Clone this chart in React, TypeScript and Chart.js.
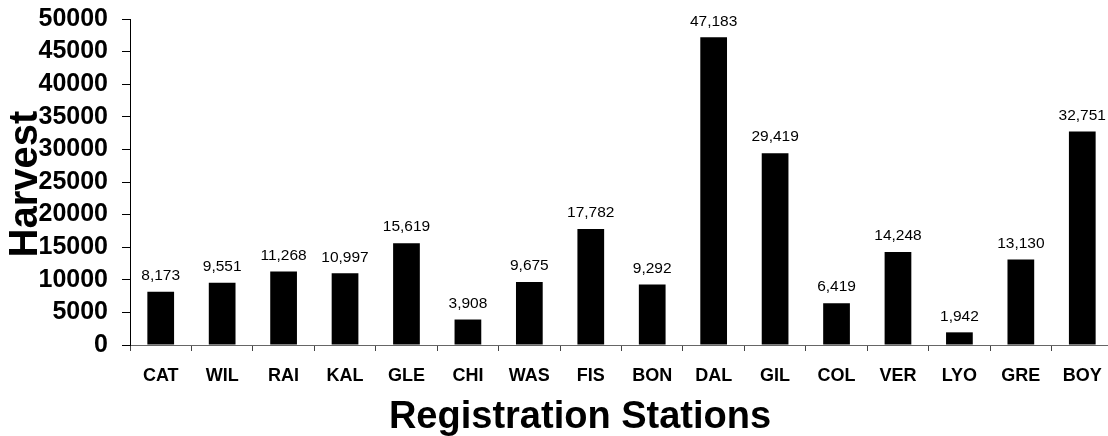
import React, { useEffect, useRef } from "react";
import { Chart, registerables } from "chart.js";

Chart.register(...registerables);

const stations = ["CAT", "WIL", "RAI", "KAL", "GLE", "CHI", "WAS", "FIS", "BON", "DAL", "GIL", "COL", "VER", "LYO", "GRE", "BOY"];
const harvest = [8173, 9551, 11268, 10997, 15619, 3908, 9675, 17782, 9292, 47183, 29419, 6419, 14248, 1942, 13130, 32751];
const yTickMax = 50000;
const yTickStep = 5000;
const xTitle = "Registration Stations";
const yTitle = "Harvest";

const FONT = '"Liberation Sans", Arial, Helvetica, sans-serif';

const labelsPlugin = {
  id: "barLabels",
  afterDatasetsDraw(chart: any) {
    const ctx = chart.ctx;
    const meta = chart.getDatasetMeta(0);
    ctx.save();
    ctx.font = `15.5px ${FONT}`;
    ctx.fillStyle = "#000";
    ctx.textAlign = "center";
    ctx.textBaseline = "middle";
    meta.data.forEach((bar: any, i: number) => {
      const v = chart.data.datasets[0].data[i] as number;
      ctx.fillText(v.toLocaleString("en-US"), bar.x, bar.y - 16);
    });
    ctx.restore();
  },
};

const titlesPlugin = {
  id: "axisTitles",
  afterDraw(chart: any) {
    const ctx = chart.ctx;
    const area = chart.chartArea;
    ctx.save();
    ctx.fillStyle = "#000";
    ctx.font = `bold 38px ${FONT}`;
    ctx.textAlign = "center";
    ctx.textBaseline = "alphabetic";
    ctx.fillText(xTitle, area.left + 450, area.bottom + 83);
    ctx.font = `bold 40px ${FONT}`;
    ctx.translate(area.left - 104, (area.top + area.bottom) / 2 + 2);
    ctx.rotate(-Math.PI / 2);
    ctx.textBaseline = "middle";
    ctx.fillText(yTitle, 0, 0);
    ctx.restore();
  },
};

export default function App() {
  const ref = useRef<HTMLCanvasElement | null>(null);
  useEffect(() => {
    if (!ref.current) return;
    const chart = new Chart(ref.current, {
      type: "bar",
      data: {
        labels: stations,
        datasets: [
          {
            data: harvest,
            backgroundColor: "#000",
            borderColor: "#000",
            borderWidth: 0,
            barPercentage: 0.435,
            categoryPercentage: 1,
          },
        ],
      },
      options: {
        animation: false,
        responsive: false,
        maintainAspectRatio: false,
        devicePixelRatio: 1,
        layout: { padding: { top: 19, right: 7, bottom: 0, left: 0 } },
        plugins: {
          legend: { display: false },
          tooltip: { enabled: false },
        },
        scales: {
          x: {
            grid: {
              display: true,
              drawOnChartArea: false,
              drawTicks: true,
              tickLength: 6,
              color: "#444",
              offset: true,
            },
            border: { display: true, color: "#666", width: 1 },
            ticks: {
              color: "#000",
              font: { family: FONT, size: 18, weight: "bold" },
              padding: 14,
              maxRotation: 0,
              autoSkip: false,
            },
            afterFit(scale: any) {
              scale.height = 91;
              scale.paddingLeft = 0;
              scale.paddingRight = 0;
            },
          },
          y: {
            min: 0,
            max: yTickMax,
            grid: {
              display: true,
              drawOnChartArea: false,
              drawTicks: true,
              tickLength: 8,
              color: "#000",
            },
            border: { display: true, color: "#000", width: 1 },
            ticks: {
              stepSize: yTickStep,
              autoSkip: false,
              color: "#000",
              font: { family: FONT, size: 25, weight: "bold" },
              padding: 14,
              callback: (v: any) => String(v),
            },
            afterFit(scale: any) {
              scale.width = 130;
              scale.paddingTop = 0;
              scale.paddingBottom = 0;
            },
          },
        },
      },
      plugins: [labelsPlugin, titlesPlugin],
    });
    return () => chart.destroy();
  }, []);
  return (
    <div style={{ position: "fixed", left: 0, top: 0, width: 1108, height: 436, overflow: "hidden", background: "#fff" }}>
      <div style={{ width: 1120, height: 436 }}>
        <canvas ref={ref} width={1120} height={436} style={{ display: "block", width: 1120, height: 436 }} />
      </div>
    </div>
  );
}
